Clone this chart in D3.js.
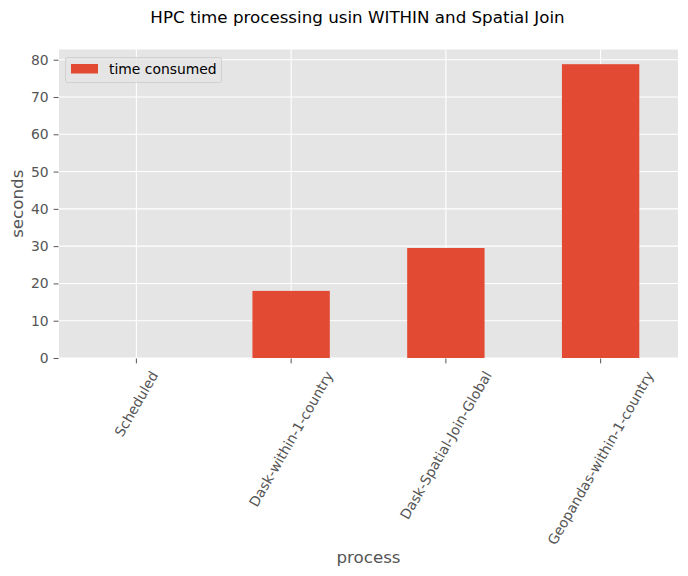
<!DOCTYPE html>
<html lang="en">
<head>
    <meta charset="UTF-8">
    <title>HPC time processing</title>
    <script src="https://d3js.org/d3.v7.min.js" charset="utf-8"></script>
    <style type="text/css">
        body {
            margin: 0;
            background: #fff;
            font-family: "DejaVu Sans", sans-serif;
        }
    </style>
</head>
<body>
<script type="text/javascript">
    // data
    const processes = ["Scheduled", "Dask-within-1-country", "Dask-Spatial-Join-Global", "Geopandas-within-1-country"];
    const seconds = [0, 18.0, 29.5, 78.8];
    const yTicks = [0, 10, 20, 30, 40, 50, 60, 70, 80];

    const w = 688, h = 576;
    const margin = { top: 49.5, right: 10, bottom: 218, left: 59 };
    const tickFont = 13.9, labelFont = 16.7;

    const svg = d3.select("body").append("svg").attr("width", w).attr("height", h);

    const xScale = d3.scaleBand()
        .domain(processes)
        .range([margin.left, w - margin.right])
        .paddingInner(0.5)
        .paddingOuter(0.25);

    const yScale = d3.scaleLinear()
        .domain([0, d3.max(seconds) * 1.05])
        .range([h - margin.bottom, margin.top]);

    // plot background
    svg.append("rect")
        .attr("x", margin.left)
        .attr("y", margin.top)
        .attr("width", w - margin.right - margin.left)
        .attr("height", h - margin.bottom - margin.top)
        .attr("fill", "#e5e5e5");

    // grid
    svg.append("g").selectAll("line")
        .data(yTicks)
        .join("line")
        .attr("x1", margin.left).attr("x2", w - margin.right)
        .attr("y1", d => yScale(d)).attr("y2", d => yScale(d))
        .attr("stroke", "#fff").attr("stroke-width", 1.1);

    svg.append("g").selectAll("line")
        .data(processes)
        .join("line")
        .attr("x1", d => xScale(d) + xScale.bandwidth() / 2)
        .attr("x2", d => xScale(d) + xScale.bandwidth() / 2)
        .attr("y1", margin.top).attr("y2", h - margin.bottom)
        .attr("stroke", "#fff").attr("stroke-width", 1.1);

    // bars
    svg.append("g").selectAll("rect")
        .data(seconds)
        .join("rect")
        .attr("x", (d, i) => xScale(processes[i]))
        .attr("width", xScale.bandwidth())
        .attr("y", d => yScale(d))
        .attr("height", d => yScale(0) - yScale(d))
        .attr("fill", "#e24a33");

    // y axis
    const yAxis = d3.axisLeft(yScale)
        .tickValues(yTicks)
        .tickSize(4.9)
        .tickPadding(4.9);

    const yAxisLine = svg.append("g")
        .attr("transform", `translate(${margin.left - 0.5}, 0)`)
        .call(yAxis);
    yAxisLine.select(".domain").remove();
    yAxisLine.selectAll("line").attr("stroke", "#555");
    yAxisLine.selectAll("text")
        .attr("fill", "#555")
        .style("font-family", "DejaVu Sans")
        .style("font-size", tickFont + "px");

    // x axis
    const xAxis = d3.axisBottom(xScale)
        .tickSize(4.9)
        .tickFormat("");

    const xAxisLine = svg.append("g")
        .attr("transform", `translate(0, ${h - margin.bottom + 0.5})`)
        .call(xAxis);
    xAxisLine.select(".domain").remove();
    xAxisLine.selectAll("line").attr("stroke", "#555");

    // rotated tick labels, 60 degrees, bbox centred under the tick
    const cos60 = Math.cos(Math.PI / 3);
    const labelTop = h - margin.bottom + 11;
    svg.append("g").selectAll("text")
        .data(processes)
        .join("text")
        .text(d => d)
        .attr("fill", "#555")
        .style("font-size", tickFont + "px")
        .attr("text-anchor", "end")
        .attr("dy", "0.35em")
        .each(function (d) {
            const len = this.getComputedTextLength();
            const ax = xScale(d) + xScale.bandwidth() / 2 + (len / 2) * cos60;
            const ay = labelTop + tickFont / 4;
            d3.select(this)
                .attr("x", ax)
                .attr("y", ay)
                .attr("transform", `rotate(-60, ${ax}, ${ay})`);
        });

    // axis labels
    svg.append("text")
        .attr("x", (margin.left + w - margin.right) / 2)
        .attr("y", 563)
        .attr("text-anchor", "middle")
        .attr("fill", "#555")
        .style("font-size", labelFont + "px")
        .text("process");

    svg.append("text")
        .attr("transform", `translate(23, ${(margin.top + h - margin.bottom) / 2}) rotate(-90)`)
        .attr("text-anchor", "middle")
        .attr("fill", "#555")
        .style("font-size", labelFont + "px")
        .text("seconds");

    // title
    svg.append("text")
        .attr("x", 357.5)
        .attr("y", 22.5)
        .attr("text-anchor", "middle")
        .attr("fill", "#000")
        .style("font-size", labelFont + "px")
        .text("HPC time processing usin WITHIN and Spatial Join");

    // legend
    const legend = svg.append("g");
    legend.append("rect")
        .attr("x", 65.5).attr("y", 57.5)
        .attr("width", 156).attr("height", 25)
        .attr("rx", 2)
        .attr("fill", "#e5e5e5").attr("fill-opacity", 0.8)
        .attr("stroke", "#cccccc").attr("stroke-opacity", 0.8);
    legend.append("rect")
        .attr("x", 71).attr("y", 64)
        .attr("width", 27).attr("height", 9.5)
        .attr("fill", "#e24a33");
    legend.append("text")
        .attr("x", 109).attr("y", 74)
        .attr("fill", "#000")
        .style("font-size", tickFont + "px")
        .text("time consumed");
</script>
</body>
</html>
